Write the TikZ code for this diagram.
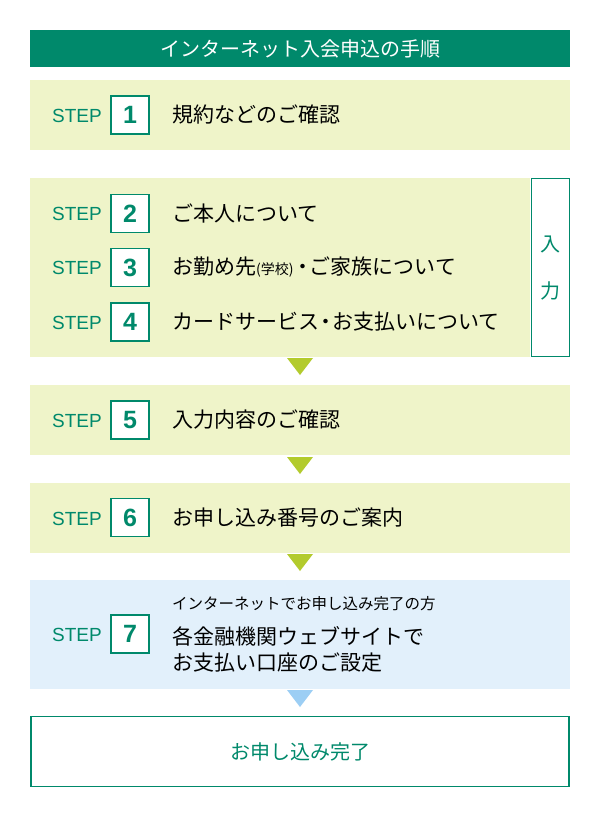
\documentclass[tikz,border=0pt]{standalone}
\usepackage{fontspec}
\setmainfont{Noto Sans CJK JP}
\newfontfamily\stepfont{Liberation Sans}
\definecolor{gr}{HTML}{00896B}
\definecolor{lg}{HTML}{EFF4C9}
\definecolor{lb}{HTML}{E2F0FB}
\definecolor{tri}{HTML}{B3CB2D}
\definecolor{trib}{HTML}{9CCEF4}
\begin{document}
\begin{tikzpicture}[x=1pt,y=-1pt,
  numbox/.style={draw=gr,line width=1.2pt,fill=white,minimum width=38pt,minimum height=38pt,inner sep=0pt,text=gr,font=\stepfont\fontsize{25}{25}\selectfont\bfseries},
  steplbl/.style={text=gr,font=\stepfont\fontsize{19}{19}\selectfont,anchor=center},
  steptxt/.style={anchor=west,font=\fontsize{21}{22}\selectfont,inner sep=0pt},
  arrowtri/.style={fill=tri,draw=none}]
\useasboundingbox (0,0) rectangle (600,817);
\fill[white] (0,0) rectangle (600,817);
% title
\node[fill=gr,minimum width=540pt,minimum height=37pt,inner sep=0pt,text=white,font=\fontsize{20}{20}\selectfont] (title) at (300,48.5) {インターネット入会申込の手順};
% step 1
\node[fill=lg,minimum width=540pt,minimum height=70pt,inner sep=0pt] (b1) at (300,115) {};
\node[steplbl] (s1) at (77,116) {STEP};
\node[numbox] (n1) at (130,115) {1};
\node[steptxt] (t1) at (172,115) {規約などのご確認};
% steps 2-4
\node[fill=lg,minimum width=500pt,minimum height=179pt,inner sep=0pt] (b2) at (280,267.5) {};
\node[draw=gr,line width=1.2pt,fill=white,minimum width=38pt,minimum height=178pt,inner sep=0pt] (nyu) at (550.5,267.5) {};
\node[text=gr,font=\fontsize{20}{20}\selectfont] (nyu1) at (550.5,244) {入};
\node[text=gr,font=\fontsize{20}{20}\selectfont] (nyu2) at (550.5,291) {力};
\node[steplbl] (s2) at (77,214) {STEP};
\node[numbox] (n2) at (130,213.5) {2};
\node[steptxt] (t2) at (172,213.5) {ご本人について};
\node[steplbl] (s3) at (77,268) {STEP};
\node[numbox] (n3) at (130,267.5) {3};
\node[steptxt] (t3) at (172,267.5) {お勤め先{\fontsize{14}{14}\selectfont (学校)}\hspace{-1pt}・\hspace{-4pt}ご家族について};
\node[steplbl] (s4) at (77,323) {STEP};
\node[numbox] (n4) at (130,322) {4};
\node[steptxt] (t4) at (172,322) {カードサービス\hspace{-4pt}・\hspace{-4pt}お支払いについて};
\fill[tri] (287,358) -- (313,358) -- (300,375) -- cycle;
% step 5
\node[fill=lg,minimum width=540pt,minimum height=70pt,inner sep=0pt] (b5) at (300,420) {};
\node[steplbl] (s5) at (77,421) {STEP};
\node[numbox] (n5) at (130,420) {5};
\node[steptxt] (t5) at (172,420) {入力内容のご確認};
\fill[tri] (287,457) -- (313,457) -- (300,474) -- cycle;
% step 6
\node[fill=lg,minimum width=540pt,minimum height=70pt,inner sep=0pt] (b6) at (300,517.5) {};
\node[steplbl] (s6) at (77,518.5) {STEP};
\node[numbox] (n6) at (130,517.5) {6};
\node[steptxt] (t6) at (172,517.5) {お申し込み番号のご案内};
\fill[tri] (287,554) -- (313,554) -- (300,571) -- cycle;
% step 7
\node[fill=lb,minimum width=540pt,minimum height=109pt,inner sep=0pt] (b7) at (300,634) {};
\node[steplbl] (s7) at (77,635) {STEP};
\node[numbox] (n7) at (130,634) {7};
\node[anchor=west,inner sep=0pt,font=\fontsize{15.5}{15.5}\selectfont] (t7a) at (172,604) {インターネットでお申し込み完了の方};
\node[steptxt] (t7b) at (172,636) {各金融機関ウェブサイトで};
\node[steptxt] (t7c) at (172,663) {お支払い口座のご設定};
\fill[trib] (287,690) -- (313,690) -- (300,707) -- cycle;
% final
\node[draw=gr,line width=1.2pt,fill=white,minimum width=538pt,minimum height=70pt,inner sep=0pt,text=gr,font=\fontsize{20}{20}\selectfont] (fin) at (300,751.5) {お申し込み完了};
\end{tikzpicture}
\end{document}
